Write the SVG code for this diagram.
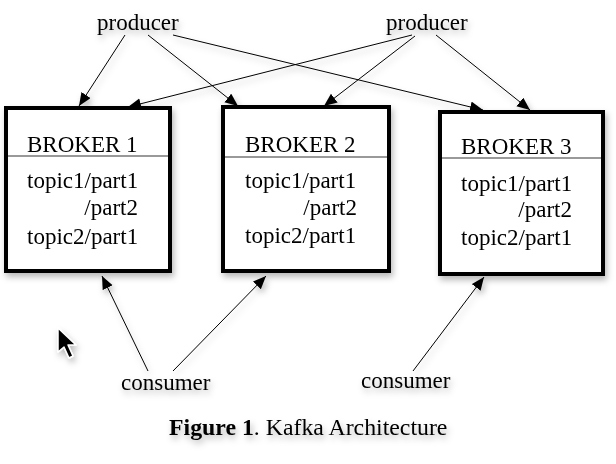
<svg xmlns="http://www.w3.org/2000/svg" width="616" height="464" viewBox="0 0 616 464">
<defs>
<style>
.t{font-family:"Liberation Serif","Times New Roman",serif;font-size:23px;fill:#000}
.box{fill:#fff;stroke:#000;stroke-width:4}
.sep{stroke:#777;stroke-width:1.5}
.c{stroke:#000;stroke-width:1;fill:none;marker-end:url(#ah)}
</style>
<marker id="ah" markerUnits="userSpaceOnUse" markerWidth="14" markerHeight="12" refX="13" refY="5.5" orient="auto">
<path d="M0,0 L13,5.5 L0,11 z" fill="#000"/>
</marker>
<filter id="sh" x="-10%" y="-10%" width="130%" height="130%">
<feDropShadow dx="2" dy="4" stdDeviation="3" flood-color="#000" flood-opacity="0.28"/>
</filter>
</defs>
<rect width="616" height="464" fill="#fff"/>
<g filter="url(#sh)">
<g id="broker1">
<rect class="box" x="6" y="108" width="164" height="163"/>
<line class="sep" x1="8" y1="156" x2="168" y2="156"/>
<text class="t" x="27" y="152">BROKER 1</text>
<text class="t" x="27" y="188">topic1/part1</text>
<text class="t" x="138" y="215" text-anchor="end">/part2</text>
<text class="t" x="27" y="244">topic2/part1</text>
</g>
<g id="broker2">
<rect class="box" x="223" y="107" width="166" height="164"/>
<line class="sep" x1="225" y1="157" x2="387" y2="157"/>
<text class="t" x="245" y="152">BROKER 2</text>
<text class="t" x="245" y="188">topic1/part1</text>
<text class="t" x="357" y="215" text-anchor="end">/part2</text>
<text class="t" x="245" y="243">topic2/part1</text>
</g>
<g id="broker3">
<rect class="box" x="440" y="112" width="163" height="162"/>
<line class="sep" x1="442" y1="158" x2="601" y2="158"/>
<text class="t" x="461" y="154">BROKER 3</text>
<text class="t" x="461" y="191">topic1/part1</text>
<text class="t" x="572" y="217" text-anchor="end">/part2</text>
<text class="t" x="461" y="245">topic2/part1</text>
</g>
<g id="producer1"><text class="t" x="97" y="30">producer</text></g>
<g id="producer2"><text class="t" x="386" y="30">producer</text></g>
<g id="consumer1"><text class="t" x="121" y="390">consumer</text></g>
<g id="consumer2"><text class="t" x="361" y="388">consumer</text></g>
<g id="connectors">
<line class="c" x1="125" y1="35" x2="79" y2="106"/>
<line class="c" x1="148" y1="35" x2="238" y2="106"/>
<line class="c" x1="173" y1="35" x2="483" y2="110"/>
<line class="c" x1="412" y1="35" x2="128" y2="107"/>
<line class="c" x1="415" y1="36" x2="324" y2="106"/>
<line class="c" x1="436" y1="35" x2="530" y2="110"/>
<line class="c" x1="148" y1="371" x2="102" y2="276"/>
<line class="c" x1="173" y1="371" x2="266" y2="276"/>
<line class="c" x1="413" y1="371" x2="484" y2="277"/>
</g>
<g id="caption">
<text class="t" x="169" y="435" style="font-size:23.8px"><tspan font-weight="bold">Figure 1</tspan>. Kafka Architecture</text>
</g>
<path d="M58,328 L58,352 L64,347 L69,358 L73,356 L68,345 L76,345 Z" fill="#000" stroke="#fff" stroke-width="1.5" stroke-linejoin="round"/>
</g>
</svg>
